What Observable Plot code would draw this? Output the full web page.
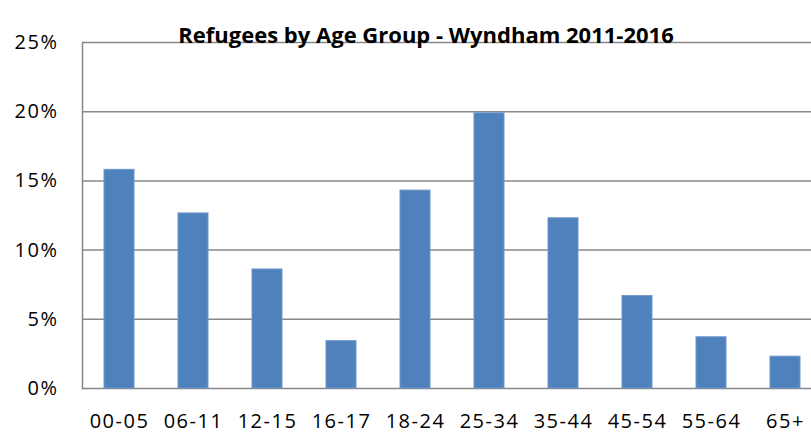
<!DOCTYPE html>
<html>
<head>
<meta charset="utf-8">
<script src="https://cdn.jsdelivr.net/npm/d3@7"></script>
<script src="https://cdn.jsdelivr.net/npm/@observablehq/plot@0.6"></script>
<style>
  html, body { margin: 0; padding: 0; background: #fff; }
  #chart svg { display: block; }
  #chart g[aria-label="x-axis tick label"] text,
  #chart g[aria-label="y-axis tick label"] text { letter-spacing: 1.5px; }
</style>
</head>
<body>
<div id="chart"></div>
<script>
const title = "Refugees by Age Group - Wyndham 2011-2016";
const ageGroups = ["00-05", "06-11", "12-15", "16-17", "18-24", "25-34", "35-44", "45-54", "55-64", "65+"];
const shares = [15.8, 12.65, 8.6, 3.42, 14.3, 19.88, 12.3, 6.68, 3.7, 2.3];
const yTicks = [0, 5, 10, 15, 20, 25];
const yTickLabels = ["0%", "5%", "10%", "15%", "20%", "25%"];

const data = ageGroups.map((g, i) => ({group: g, value: shares[i]}));

const chart = Plot.plot({
  width: 811,
  height: 433,
  marginLeft: 82,
  marginRight: 0,
  marginTop: 42,
  marginBottom: 45,
  style: {fontFamily: "'Open Sans', sans-serif", fontSize: "20px", color: "#000", background: "#fff"},
  x: {domain: ageGroups, range: [82, 822], paddingInner: 0.6, paddingOuter: 0.3, label: null},
  y: {domain: [0, 25], label: null},
  marks: [
    Plot.gridY(yTicks, {stroke: "#888", strokeOpacity: 1, strokeWidth: 1.5}),
    Plot.frame({anchor: "left", stroke: "#888", strokeOpacity: 1, strokeWidth: 1.5}),
    Plot.barY(data, {x: "group", y: "value", fill: "#4F81BD", stroke: "#6f97c9", strokeWidth: 1}),
    Plot.axisY(yTicks, {tickSize: 0, tickPadding: 24, tickFormat: (d) => yTickLabels[yTicks.indexOf(d)], label: null}),
    Plot.axisX({tickSize: 0, tickPadding: 25, label: null}),
    Plot.text([title], {frameAnchor: "top", dx: -21, dy: -15, fontWeight: "bold", fontSize: 22, fill: "#000"})
  ]
});
document.getElementById("chart").appendChild(chart);
</script>
</body>
</html>
